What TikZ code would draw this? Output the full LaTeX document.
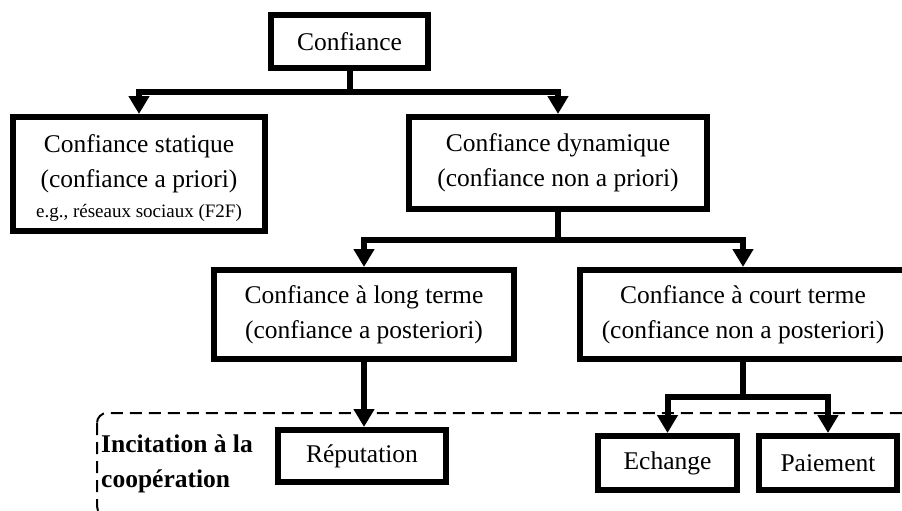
\documentclass[tikz,border=0pt]{standalone}
\usepackage{fontspec}
\setmainfont{Liberation Serif}
\usetikzlibrary{arrows.meta}
\newcommand\mainsz{\fontsize{25.5}{35}\selectfont}
\newcommand\smallsz{\fontsize{19}{24}\selectfont}
\begin{document}
\begin{tikzpicture}[x=1pt,y=-1pt,
  box/.style={draw, line width=6pt, inner sep=0pt, align=center, font=\mainsz},
  arr/.style={line width=6pt, line join=miter, -{Triangle[width=20pt,length=18pt]}},
  dashbox/.style={draw, line width=2pt, dash pattern=on 12pt off 7pt, rounded corners=10pt}]
\path[use as bounding box] (0,0) rectangle (902,511);
\clip (0,0) rectangle (902,511);
\draw[dashbox] (97,413) rectangle (940,516);
\node[box, minimum width=157pt, minimum height=53pt] (conf) at (349.5,41.5) {Confiance};
\node[box, minimum width=252pt, minimum height=114pt] (stat) at (139,174) {\rule{0pt}{26pt}Confiance statique\\(confiance a priori)\\[-5pt]{\smallsz e.g., réseaux sociaux (F2F)}};
\node[box, minimum width=298pt, minimum height=92pt] (dyn) at (558,163) {Confiance dynamique\\(confiance non a priori)};
\node[box, minimum width=300pt, minimum height=89pt] (long) at (364,314.5) {Confiance à long terme\\(confiance a posteriori)};
\node[box, minimum width=326pt, minimum height=89pt] (court) at (743,314.5) {Confiance à court terme\\(confiance non a posteriori)};
\node[box, minimum width=168pt, minimum height=52pt] (rep) at (362,456) {Réputation};
\node[box, minimum width=139pt, minimum height=54pt] (ech) at (667.5,463) {Echange};
\node[box, minimum width=138pt, minimum height=54pt] (pai) at (828,463) {Paiement};
\node[font=\mainsz\bfseries, align=left, anchor=west, inner sep=0pt] (inc) at (101,464) {Incitation à la\\coopération};
\draw[arr] (conf.south) -- ++(0,21) -| (stat.north);
\draw[arr] (conf.south) -- ++(0,21) -| (dyn.north);
\draw[arr] (dyn.south) -- ++(0,28) -| (long.north);
\draw[arr] (dyn.south) -- ++(0,28) -| (court.north);
\draw[arr] (long.south) -- (long.south |- rep.north);
\draw[arr] (court.south) -- ++(0,35) -| (ech.north);
\draw[arr] (court.south) -- ++(0,35) -| (pai.north);
\end{tikzpicture}
\end{document}
